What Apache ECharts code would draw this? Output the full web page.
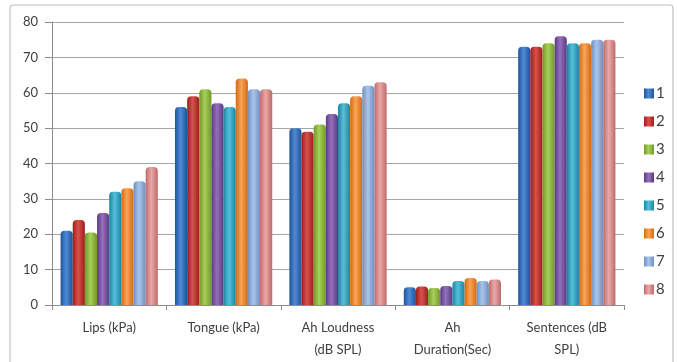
<!DOCTYPE html>
<html><head><meta charset="utf-8">
<script src="https://cdn.jsdelivr.net/npm/echarts@6/dist/echarts.min.js"></script>
<style>html,body{margin:0;padding:0;background:#fff}#c{width:677px;height:362px}</style>
</head><body><div id="c"></div>
<script>
const categories = ['Lips (kPa)', 'Tongue (kPa)', 'Ah Loudness\n(dB SPL)', 'Ah\nDuration(Sec)', 'Sentences (dB\nSPL)'];
const s1 = [21, 56, 50, 5.0, 73];
const s2 = [24, 59, 49, 5.2, 73];
const s3 = [20.5, 61, 51, 4.8, 74];
const s4 = [26, 57, 54, 5.4, 76];
const s5 = [32, 56, 57, 6.8, 74];
const s6 = [33, 64, 59, 7.6, 74];
const s7 = [35, 61, 62, 6.8, 75];
const s8 = [39, 61, 63, 7.2, 75];
const seriesNames = ['1', '2', '3', '4', '5', '6', '7', '8'];
const yTicks = [0, 10, 20, 30, 40, 50, 60, 70, 80];

const seriesData = [s1, s2, s3, s4, s5, s6, s7, s8];
const colors = [
  ['#1f5399', '#4f8ad6'],
  ['#9c1f1c', '#d9504c'],
  ['#6f9a25', '#a9cf5d'],
  ['#5c3a82', '#9571bd'],
  ['#1b86a2', '#56bfd9'],
  ['#d26a12', '#fba455'],
  ['#6f8fbf', '#aac5ea'],
  ['#bd6b6b', '#eaa8a8']
];
function grad(c) {
  return new echarts.graphic.LinearGradient(0, 0, 1, 0, [
    {offset: 0, color: c[0]},
    {offset: 0.45, color: c[1]},
    {offset: 1, color: c[0]}
  ]);
}
const chart = echarts.init(document.getElementById('c'), null, {renderer: 'canvas'});
const txt = '#404040';
chart.setOption({
  animation: false,
  graphic: [{
    type: 'rect', shape: {x: 10, y: 5, width: 663, height: 370, r: 3},
    style: {fill: 'none', stroke: '#c0c0c0', lineWidth: 1.2}, silent: true, z: -1
  }],
  grid: {left: 52, top: 22, right: 53, bottom: 57, containLabel: false},
  legend: {
    orient: 'vertical', left: 639, top: 81,
    itemWidth: 10, itemHeight: 10, itemGap: 13,
    icon: 'rect',
    textStyle: {color: txt, fontSize: 15, fontFamily: 'Lato, "Open Sans", sans-serif', padding: [0, 0, 0, -3]},
    data: seriesNames
  },
  xAxis: {
    type: 'category', data: categories,
    axisLine: {lineStyle: {color: '#8c8c8c', width: 1}},
    axisTick: {show: true, length: 5, lineStyle: {color: '#8c8c8c'}},
    axisLabel: {color: txt, fontSize: 13, lineHeight: 22, margin: 12, interval: 0,
      fontFamily: 'Lato, "Open Sans", sans-serif'}
  },
  yAxis: {
    type: 'value', min: 0, max: 80, interval: 10,
    axisLine: {show: true, lineStyle: {color: '#8c8c8c'}},
    axisTick: {show: true, length: 7, lineStyle: {color: '#8c8c8c'}},
    splitLine: {lineStyle: {color: '#a6a6a6', width: 1}},
    axisLabel: {color: txt, fontSize: 13, margin: 14,
      fontFamily: 'Lato, "Open Sans", sans-serif',
      formatter: v => yTicks.includes(v) ? String(v) : ''}
  },
  series: seriesData.map((d, i) => ({
    name: seriesNames[i], type: 'bar', data: d,
    barGap: '0%', barCategoryGap: '15%',
    itemStyle: {color: grad(colors[i]), borderRadius: [4, 4, 0, 0]}
  }))
});
</script></body></html>
